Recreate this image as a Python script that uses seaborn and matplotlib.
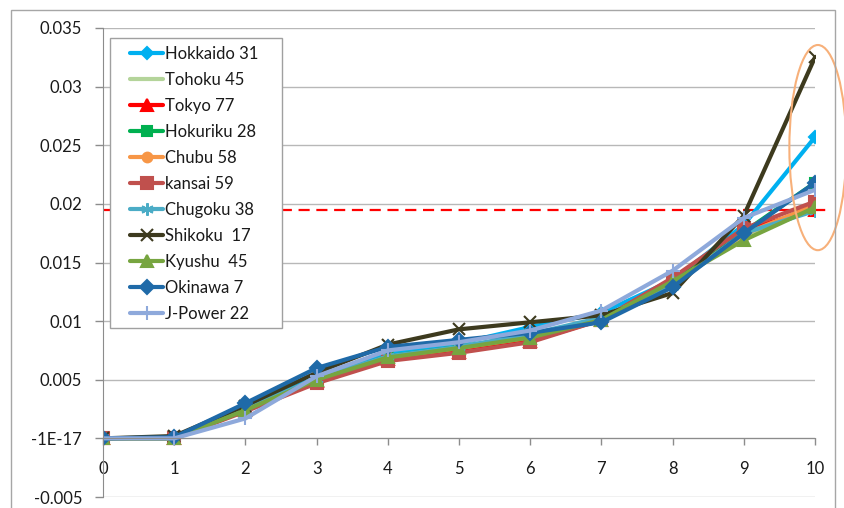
import matplotlib
matplotlib.use("Agg")
import matplotlib.pyplot as plt
from matplotlib.patches import Ellipse, Rectangle
from matplotlib.ticker import FixedLocator, FixedFormatter
import numpy as np
import pandas as pd
import seaborn as sns

# data
steps = [0, 1, 2, 3, 4, 5, 6, 7, 8, 9, 10]
hokkaido = [0, 0, 0.0026, 0.0052, 0.0073, 0.0081, 0.0095, 0.0107, 0.0135, 0.0182, 0.0257]
tohoku = [0, 0, 0.0025, 0.0050, 0.0069, 0.0077, 0.0087, 0.0102, 0.0132, 0.0173, 0.0198]
tokyo = [0, 0, 0.0024, 0.0049, 0.0068, 0.0074, 0.0083, 0.0101, 0.0136, 0.0178, 0.0195]
hokuriku = [0, 0, 0.0025, 0.0050, 0.0070, 0.0078, 0.0088, 0.0102, 0.0133, 0.0176, 0.0218]
chubu = [0, 0, 0.0025, 0.0050, 0.0069, 0.0077, 0.0086, 0.0102, 0.0132, 0.0174, 0.0199]
kansai = [0, 0, 0.0023, 0.0047, 0.0066, 0.0073, 0.0082, 0.0101, 0.0137, 0.0179, 0.0202]
chugoku = [0, 0, 0.0026, 0.0051, 0.0070, 0.0078, 0.0089, 0.0103, 0.0130, 0.0175, 0.0194]
shikoku = [0, 0.0002, 0.0028, 0.0056, 0.0080, 0.0093, 0.0099, 0.0105, 0.0124, 0.0190, 0.0325]
kyushu = [0, 0, 0.0024, 0.0050, 0.0069, 0.0077, 0.0086, 0.0101, 0.0134, 0.0169, 0.0197]
okinawa = [0, 0.0001, 0.0030, 0.0060, 0.0078, 0.0084, 0.0090, 0.0099, 0.0129, 0.0175, 0.0218]
jpower = [0, 0, 0.0017, 0.0053, 0.0075, 0.0082, 0.0092, 0.0109, 0.0143, 0.0188, 0.0212]

labels = ["Hokkaido 31", "Tohoku 45", "Tokyo 77", "Hokuriku 28", "Chubu 58", "kansai 59",
          "Chugoku 38", "Shikoku  17", "Kyushu  45", "Okinawa 7", "J-Power 22"]
series = [hokkaido, tohoku, tokyo, hokuriku, chubu, kansai, chugoku, shikoku, kyushu, okinawa, jpower]

threshold = 0.01945
ytick_vals = [-0.005, 0, 0.005, 0.01, 0.015, 0.02, 0.025, 0.03, 0.035]
ytick_text = ["-0.005", "-1E-17", "0.005", "0.01", "0.015", "0.02", "0.025", "0.03", "0.035"]

#STYLE
colors = ["#00B0F0", "#B4D49A", "#FF0000", "#00B050", "#F79646", "#C0504D",
          "#4BACC6", "#3D3A1E", "#77A540", "#1F6AA8", "#8EA9DB"]
markers = ["D", None, "^", "s", "o", "s", (6, 2, 0), "x", "^", "D", "+"]
msizes = [6, 0, 8, 7, 7, 8, 9, 8, 8, 7, 10]

sns.set_style("white")
plt.rcParams['font.family'] = ['Lato', 'DejaVu Sans']

fig = plt.figure(figsize=(8.44, 5.08), dpi=100)
ax = fig.add_axes([103/844, 1-497/508, (815-103)/844, (497-28)/508])

for lab, vals, c, m, ms in zip(labels, series, colors, markers, msizes):
    df = pd.DataFrame({'step': steps, 'value': vals})
    kw = dict(marker=m, markersize=ms, markeredgewidth=1.5, markeredgecolor=c,
              markerfacecolor=c) if m is not None else {}
    sns.lineplot(data=df, x='step', y='value', color=c, linewidth=3, label=lab, ax=ax, **kw)

# annotation: red dashed threshold + orange ellipse
ax.plot([steps[0], steps[-1] + 0.17], [threshold, threshold], color="#FF0000", lw=1.6,
        ls=(0, (5, 3)), clip_on=False, zorder=1)
ax.add_patch(Ellipse((10.04, 0.0248), 0.8, 0.0175, fill=False, edgecolor="#F7B07A",
                     lw=1.5, clip_on=False, zorder=5))

ax.set_xlim(0, 10)
ax.set_ylim(-0.005, 0.035)
ax.set_xlabel("")
ax.set_ylabel("")
ax.xaxis.set_major_locator(FixedLocator(steps))
ax.yaxis.set_major_locator(FixedLocator(ytick_vals))
ax.yaxis.set_major_formatter(FixedFormatter(ytick_text))
ax.grid(axis='y', color="#B8B8B8", lw=1)
ax.grid(axis='x', visible=False)
ax.set_axisbelow(True)

for s in ['top', 'right']:
    ax.spines[s].set_visible(False)
ax.spines['bottom'].set_position(('data', 0))
ax.spines['bottom'].set_color("#8C8C8C")
ax.spines['left'].set_color("#8C8C8C")
ax.tick_params(axis='x', direction='out', length=5, width=1, color="#8C8C8C", pad=11,
               labelsize=12, labelcolor="#1A1A1A", bottom=True)
ax.tick_params(axis='y', direction='out', length=6, width=1, color="#8C8C8C", pad=9,
               labelsize=12, labelcolor="#1A1A1A", left=True)

# legend box drawn separately (excel style: wide right padding)
box = Rectangle((110/844, 1-328/508), 172/844, 290/508, transform=fig.transFigure,
                facecolor="white", edgecolor="#A0A0A0", lw=1, zorder=4)
ax.add_artist(box)
handles, _ = ax.get_legend_handles_labels()
leg = ax.legend(handles, labels, loc='upper left', bbox_to_anchor=(130/844, 1-46/508),
                bbox_transform=fig.transFigure, fontsize=12, frameon=False,
                handlelength=1.98, handletextpad=0.12, labelspacing=0.6, borderpad=0,
                borderaxespad=0, numpoints=1)
leg.set_zorder(6)
for t in leg.get_texts():
    t.set_color("#1A1A1A")

# chart border
fig.patches.append(Rectangle((11/844, -0.05), 824/844, 1.05 - 10/508, fill=False,
                             edgecolor="#A6A6A6", lw=1, transform=fig.transFigure))

plt.savefig("out.png", dpi=100)
